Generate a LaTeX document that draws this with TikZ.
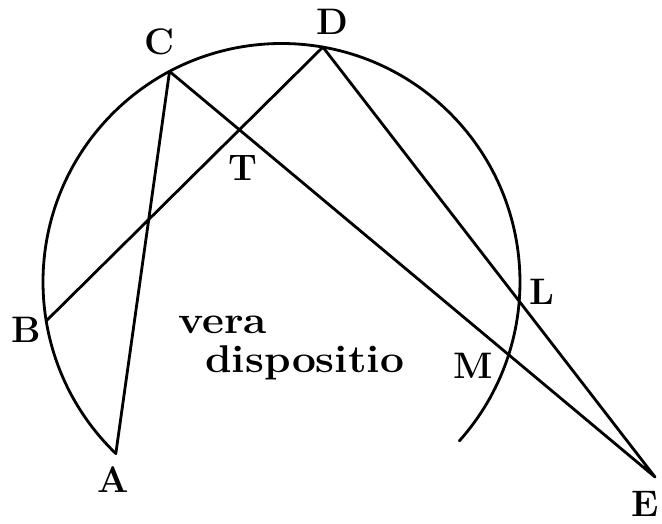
\documentclass[tikz,border=0pt]{standalone}
\usepackage{tikz}
\usetikzlibrary{calc}
\tikzset{
  figline/.style={line width=1.6pt, line cap=round, line join=round},
  ptlabel/.style={font=\fontsize{21}{24}\selectfont\bfseries, inner sep=0pt},
  figtext/.style={font=\fontsize{22}{26}\selectfont\bfseries, inner sep=0pt, anchor=base west, xscale=1.1, transform shape}
}

\begin{document}
\begin{tikzpicture}
  \useasboundingbox (0,0) rectangle (13.24,10.48);

  % Centre and points on the circle
  \coordinate (O) at (5.63,4.84);
  \coordinate (A) at ($(O)+(226:4.77)$);
  \coordinate (B) at ($(O)+(189.4:4.77)$);
  \coordinate (C) at ($(O)+(118:4.77)$);
  \coordinate (D) at ($(O)+(80:4.77)$);
  \coordinate (E) at (13.10,0.94);
  \coordinate (T) at (intersection of B--D and C--E);

  % Circle arc, open at the bottom
  \draw[figline] (A) arc[start angle=226, end angle=-41.8, radius=4.77];

  % Lines
  \draw[figline] (A) -- (C) -- (E) -- (D) -- (B);

  % Labels
  \node[ptlabel] (labA) at (2.26,0.88) {A};
  \node[ptlabel] (labB) at (0.52,3.88) {B};
  \node[ptlabel] (labC) at (3.20,9.64) {C};
  \node[ptlabel] (labD) at (6.64,10.04) {D};
  \node[ptlabel] (labE) at (12.90,0.40) {E};
  \node[ptlabel] (labT) at (4.86,7.12) {T};
  \node[ptlabel] (labL) at (10.84,4.64) {L};
  \node[ptlabel] (labM) at (9.46,3.16) {M};

  \node[figtext] (vera) at (3.56,3.80) {vera};
  \node[figtext] (dispositio) at (4.10,3.02) {dispositio};
\end{tikzpicture}
\end{document}
